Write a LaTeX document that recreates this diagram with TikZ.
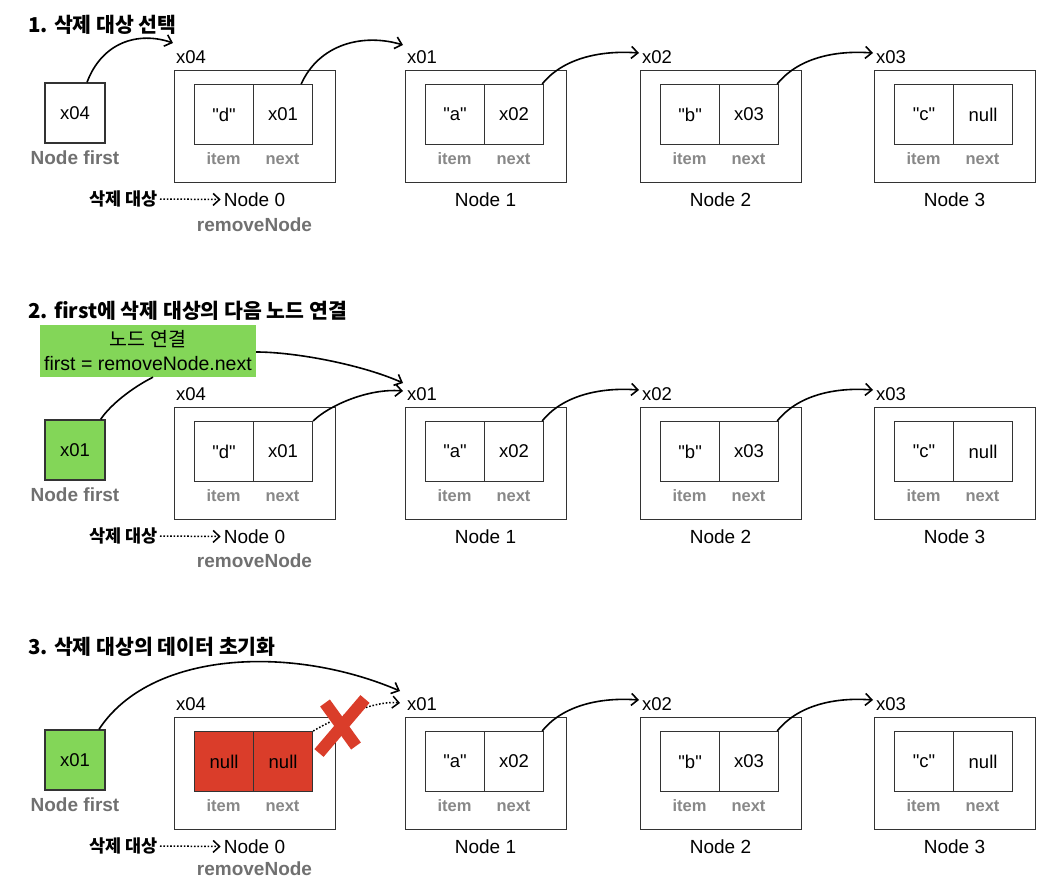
\documentclass[tikz,border=0pt]{standalone}
\usepackage{fontspec}
\setmainfont{Liberation Sans}[Ligatures=TeXOff]
\newfontfamily\kr{Noto Sans CJK KR}
\usetikzlibrary{arrows.meta,calc}
\definecolor{gfill}{RGB}{131,214,88}
\definecolor{rfill}{RGB}{218,61,42}
\definecolor{lgray}{RGB}{112,112,112}
\definecolor{igray}{RGB}{136,136,136}
\definecolor{edge}{RGB}{51,51,51}
\tikzset{
  outerbox/.style={draw=edge, line width=1.3pt, minimum width=161pt, minimum height=112pt, inner sep=0pt, anchor=north west},
  cell/.style={draw=edge, line width=1.2pt, minimum width=59pt, minimum height=60pt, inner sep=0pt, anchor=north west, font=\fontsize{18.5}{20}\selectfont},
  firstbox/.style={draw=edge, line width=1.3pt, minimum width=60pt, minimum height=60pt, inner sep=0pt, font=\fontsize{18.5}{20}\selectfont},
  addr/.style={anchor=west, inner sep=0pt, font=\fontsize{18.5}{20}\selectfont},
  fieldlbl/.style={inner sep=0pt, text=igray, font=\bfseries\fontsize{16.5}{18}\selectfont},
  nodelbl/.style={inner sep=0pt, font=\fontsize{19}{21}\selectfont},
  firstlbl/.style={inner sep=0pt, text=lgray, font=\bfseries\fontsize{19}{21}\selectfont},
  krlbl/.style={inner sep=0pt, font=\kr\bfseries\fontsize{17.5}{20}\selectfont},
  title/.style={anchor=west, inner sep=0pt, font=\kr\bfseries\fontsize{20.5}{24}\selectfont},
  greenbox/.style={fill=gfill, draw=none, minimum width=216pt, minimum height=52pt, inner sep=0pt, align=center, font=\fontsize{19.5}{24}\selectfont},
  arr/.style={draw=black, line width=1.6pt, -{Straight Barb[length=6.5pt,width=12pt]}},
  link/.style={draw=black, line width=1.6pt},
  dotarr/.style={draw=black, line width=1.5pt, dash pattern=on 1.6pt off 1.8pt, -{Straight Barb[length=6.5pt,width=12pt]}},
  redx/.style={draw=rfill, line width=12pt},
}
\newcommand\lnode[8]{%
  \node[outerbox] (o#1) at (#2,70+#3) {};
  \node[addr] (a#1) at (#2+2,57+#3) {#4};
  \node[cell,#7] (i#1) at (#2+20,84+#3) {#5};
  \node[cell,#7] (n#1) at (#2+79,84+#3) {#6};
  \node[fieldlbl] (ti#1) at (#2+49.5,159+#3) {item};
  \node[fieldlbl] (tn#1) at (#2+108.5,159+#3) {next};
  \node[nodelbl] (nl#1) at (#2+80.5,199.5+#3) {#8};
}
\newcommand\tailrow[3]{% #1 row id, #2 yoffset, #3 removeNode y
  \lnode{1#1}{405}{#2}{x01}{"a"}{x02}{}{Node 1}
  \lnode{2#1}{640}{#2}{x02}{"b"}{x03}{}{Node 2}
  \lnode{3#1}{874}{#2}{x03}{"c"}{null}{}{Node 3}
  \node[krlbl,anchor=east] (d#1) at (158,199+#2) {삭제 대상};
  \node[firstlbl] (r#1) at (254.5,#3) {removeNode};
  \draw[dotarr, shorten <=2pt, shorten >=3pt] (d#1.east) -- (nl0#1.west);
  \draw[arr] ($(n1#1.north east)+(-2,0)$) .. controls +(20,-25) and +(-40,-3) .. ($(a2#1.west)+(-3,-4)$);
  \draw[arr] ($(n2#1.north east)+(-2,0)$) .. controls +(20,-25) and +(-40,-3) .. ($(a3#1.west)+(-3,-4)$);
}
\begin{document}
\begin{tikzpicture}[x=1pt,y=-1pt]
\useasboundingbox (0,0) rectangle (1052,880);
% ---------- row 1
\node[title] (tA) at (28,25) {1. 삭제 대상 선택};
\node[firstbox] (fA) at (75,113) {x04};
\node[firstlbl] (flA) at (75,158) {Node first};
\lnode{0A}{174}{0}{x04}{"d"}{x01}{}{Node 0}
\tailrow{A}{0}{225}
\draw[arr] ($(fA.north)+(12,0)$) .. controls +(15,-40) and +(-35,-12) .. ($(a0A.west)+(-3,-14)$);
\draw[arr] ($(n0A.north east)+(-12,0)$) .. controls +(18,-40) and +(-40,-12) .. ($(a1A.west)+(-4,-12)$);
% ---------- row 2
\node[title] (tB) at (28,311) {2. first에 삭제 대상의 다음 노드 연결};
\node[greenbox] (gB) at (148,351) {{\kr 노드 연결}\\first = removeNode.next};
\node[firstbox, fill=gfill] (fB) at (75,450) {x01};
\node[firstlbl] (flB) at (75,495) {Node first};
\lnode{0B}{174}{337}{x04}{"d"}{x01}{}{Node 0}
\tailrow{B}{337}{561}
\draw[link] ($(fB.north east)+(-5,0)$) .. controls +(10,-15) and +(-20,10) .. ($(gB.south)+(5,0)$);
\draw[arr] ($(gB.east)+(0,1)$) .. controls +(40,0) and +(-40,-18) .. ($(a1B.west)+(-4,-11)$);
\draw[arr] (n0B.north east) .. controls +(15,-15) and +(-35,-3) .. ($(a1B.west)+(-4,-3)$);
% ---------- row 3
\node[title] (tC) at (28,647) {3. 삭제 대상의 데이터 초기화};
\node[firstbox, fill=gfill] (fC) at (75,760) {x01};
\node[firstlbl] (flC) at (75,805) {Node first};
\lnode{0C}{174}{647}{x04}{null}{null}{fill=rfill}{Node 0}
\tailrow{C}{647}{869}
\draw[arr] ($(fC.north)+(24,0)$) .. controls +(51,-78) and +(-110,-47) .. ($(a1C.west)+(-7,-13)$);
\draw[dotarr] (n0C.north east) .. controls +(20,-12) and +(-25,-3) .. ($(a1C.west)+(-7,-1)$);
\draw[redx] (325,703) -- (356,746);
\draw[redx] (365,699) -- (319,753);
\end{tikzpicture}
\end{document}
